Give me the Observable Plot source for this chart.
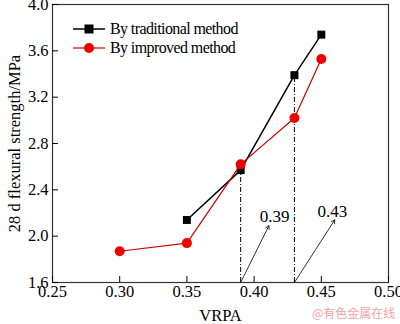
<!DOCTYPE html>
<html><head><meta charset="utf-8">
<script src="https://cdn.jsdelivr.net/npm/d3@7"></script>
<script src="https://cdn.jsdelivr.net/npm/@observablehq/plot@0.6"></script>
<style>
body{margin:0;background:#fff;}
#wrap{position:relative;width:400px;height:324px;font-family:"Liberation Serif",serif;}
#legend{position:absolute;left:73px;top:19px;font-size:16px;line-height:19px;color:#000;letter-spacing:-0.6px;}
#legend div{display:flex;align-items:center;height:19px;}
#legend svg{margin-right:5px;}
#wm{position:absolute;left:312px;top:304px;font-size:12px;color:#f2a3a3;font-family:"Noto Sans CJK SC",sans-serif;}
</style></head>
<body><div id="wrap"><div id="chart"></div>
<div id="legend"></div>
<div id="wm">@有色金属在线</div></div>
<script>
const vrpaTrad = [0.35, 0.39, 0.43, 0.45];
const strengthTrad = [2.14, 2.57, 3.39, 3.74];
const vrpaImp = [0.30, 0.35, 0.39, 0.43, 0.45];
const strengthImp = [1.87, 1.94, 2.62, 3.02, 3.53];
const markX = [0.39, 0.43];
const markTop = [2.57, 3.39];
const markLabels = ["0.39", "0.43"];
const arrowTipX = [0.411, 0.460];
const arrowTipY = [2.09, 2.14];
const labelX = [0.4152, 0.4583];
const labelY = [2.17, 2.21];
const xTicks = [0.25, 0.30, 0.35, 0.40, 0.45, 0.50];
const yTicks = [1.6, 2.0, 2.4, 2.8, 3.2, 3.6, 4.0];
const seriesNames = ["By traditional method", "By improved method"];

const trad = vrpaTrad.map((x, i) => ({x, y: strengthTrad[i]}));
const imp = vrpaImp.map((x, i) => ({x, y: strengthImp[i]}));
const marks = markX.map((x, i) => ({x, top: markTop[i], label: markLabels[i], tx: arrowTipX[i], ty: arrowTipY[i], lx: labelX[i], ly: labelY[i]}));

const plot = Plot.plot({
  width: 400, height: 324,
  marginLeft: 52, marginRight: 12, marginTop: 4, marginBottom: 42,
  style: {fontFamily: "Liberation Serif, serif", fontSize: "16px", color: "#000", background: "#fff", overflow: "visible"},
  x: {domain: [0.25, 0.50]},
  y: {domain: [1.6, 4.0]},
  marks: [
    Plot.frame({stroke: "#333", strokeWidth: 1.2}),
    Plot.axisX({ticks: xTicks, tickFormat: d3.format(".2f"), tickSize: -6, tickPadding: 9, label: "VRPA", labelArrow: "none", labelAnchor: "center", labelOffset: 38, fontSize: 16.5}),
    Plot.axisY({ticks: yTicks, tickFormat: d3.format(".1f"), tickSize: -6, tickPadding: 10, label: "28 d flexural strength/MPa", labelArrow: "none", labelAnchor: "center", labelOffset: 44, fontSize: 16.5}),
    Plot.ruleX(marks, {x: "x", y1: 1.6, y2: "top", stroke: "#000", strokeWidth: 1, strokeDasharray: "5,2,1,2"}),
    Plot.arrow(marks, {x1: "x", y1: 1.6, x2: "tx", y2: "ty", stroke: "#000", strokeWidth: 0.8, headLength: 7}),
    Plot.text(marks, {x: "lx", y: "ly", text: "label", fontSize: 17}),
    Plot.line(trad, {x: "x", y: "y", stroke: "#000", strokeWidth: 1.5}),
    Plot.dot(trad, {x: "x", y: "y", symbol: "square", fill: "#000", r: 4.5}),
    Plot.line(imp, {x: "x", y: "y", stroke: "#cc0000", strokeWidth: 1.2}),
    Plot.dot(imp, {x: "x", y: "y", symbol: "circle", fill: "#ee0000", r: 5})
  ]
});
document.getElementById("chart").appendChild(plot);

const leg = document.getElementById("legend");
leg.innerHTML =
  `<div><svg width="32" height="12"><line x1="0" y1="6" x2="32" y2="6" stroke="#000" stroke-width="1.5"/><rect x="11.5" y="1.5" width="9" height="9" fill="#000"/></svg>${seriesNames[0]}</div>` +
  `<div><svg width="32" height="12"><line x1="0" y1="6" x2="32" y2="6" stroke="#cc0000" stroke-width="1.2"/><circle cx="16" cy="6" r="5" fill="#ee0000"/></svg>${seriesNames[1]}</div>`;
</script></body></html>
